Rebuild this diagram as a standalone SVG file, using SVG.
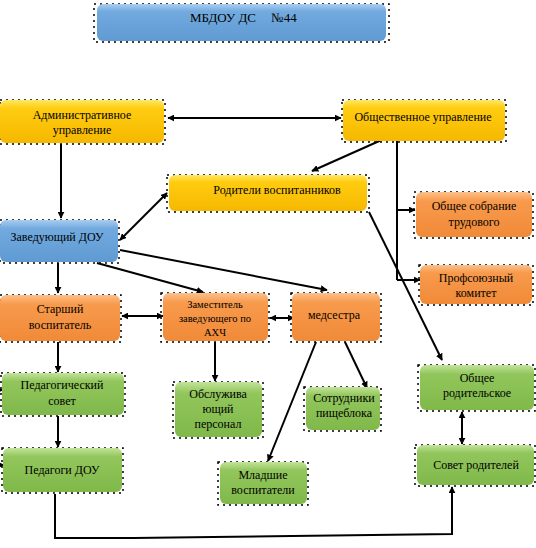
<svg xmlns="http://www.w3.org/2000/svg" width="536" height="548" viewBox="0 0 536 548">
<defs>
<linearGradient id="gb" x1="0" y1="0" x2="0" y2="1"><stop offset="0" stop-color="#A9CDF0"/><stop offset="0.2" stop-color="#72AADF"/><stop offset="1" stop-color="#5F9AD2"/></linearGradient>
<linearGradient id="gy" x1="0" y1="0" x2="0" y2="1"><stop offset="0" stop-color="#FFE860"/><stop offset="0.2" stop-color="#FFCC10"/><stop offset="1" stop-color="#F5B800"/></linearGradient>
<linearGradient id="go" x1="0" y1="0" x2="0" y2="1"><stop offset="0" stop-color="#FCC08A"/><stop offset="0.2" stop-color="#F89A4C"/><stop offset="1" stop-color="#F08A38"/></linearGradient>
<linearGradient id="gg" x1="0" y1="0" x2="0" y2="1"><stop offset="0" stop-color="#C2E49A"/><stop offset="0.2" stop-color="#92C65C"/><stop offset="1" stop-color="#80B84A"/></linearGradient>
<marker id="ah" viewBox="0 0 10 10" refX="9" refY="5" markerWidth="7" markerHeight="7" orient="auto-start-reverse" markerUnits="userSpaceOnUse"><path d="M0,0 L10,5 L0,10 z" fill="#000"/></marker>
</defs>
<style>
text{font-family:"Liberation Serif","Times New Roman",serif;font-size:12px;fill:#000;text-anchor:middle}
.s{font-size:10.5px}
.fr{fill:none;stroke:#000;stroke-width:1.5;stroke-dasharray:2,4}
.b{stroke:none}
.c{fill:none;stroke:#000;stroke-width:2}
.a{marker-end:url(#ah)}
.d{marker-start:url(#ah);marker-end:url(#ah)}
</style>
<rect width="536" height="548" fill="#fff"/>

<g id="connectors">
<line class="c d" x1="168" y1="118" x2="341" y2="118"/>
<line class="c a" x1="61" y1="144" x2="61" y2="218"/>
<line class="c d" x1="120" y1="240" x2="167" y2="193"/>
<line class="c a" x1="386" y1="138" x2="312" y2="171"/>
<polyline class="c" points="397,141 397,280"/>
<line class="c a" x1="397" y1="210" x2="415" y2="210"/>
<line class="c a" x1="397" y1="280" x2="420" y2="280"/>
<line class="c a" x1="369" y1="212" x2="442" y2="360"/>
<line class="c a" x1="58" y1="263" x2="58" y2="293"/>
<line class="c a" x1="97" y1="263" x2="203" y2="292"/>
<line class="c a" x1="120" y1="250" x2="327" y2="290"/>
<line class="c d" x1="122" y1="316" x2="163" y2="316"/>
<line class="c d" x1="270" y1="318" x2="294" y2="318"/>
<line class="c a" x1="58" y1="342" x2="58" y2="372"/>
<line class="c a" x1="58" y1="416" x2="58" y2="447"/>
<line class="c a" x1="215" y1="342" x2="215" y2="381"/>
<line class="c a" x1="345" y1="342" x2="367" y2="388"/>
<line class="c a" x1="316" y1="342" x2="268" y2="461"/>
<line class="c d" x1="462" y1="412" x2="462" y2="444"/>
<polyline class="c a" points="55,494 55,538 134,538 213,537 292,536 372,535 452,534 452,487"/>
<line class="c a" x1="-4" y1="390" x2="3" y2="390"/>
<line class="c a" x1="-4" y1="465" x2="4" y2="465"/>
</g>

<g id="n-title">
<rect class="fr" x="94" y="4" width="295" height="38"/>
<rect class="b" x="97" y="4" width="289" height="37" rx="6" fill="url(#gb)"/>
<text x="223" y="22" style="font-size:13px">МБДОУ ДС</text>
<text x="284" y="22" style="font-size:13px">№44</text>
</g>

<g id="n-admin">
<rect class="fr" x="0" y="100" width="165" height="44"/>
<rect class="b" x="0" y="100" width="164" height="43" rx="6" fill="url(#gy)"/>
<text x="82" y="119">Административное</text>
<text x="82" y="134">управление</text>
</g>

<g id="n-public">
<rect class="fr" x="342" y="100" width="164" height="42"/>
<rect class="b" x="343" y="100" width="162" height="41" rx="6" fill="url(#gy)"/>
<text x="423" y="121">Общественное управление</text>
</g>

<g id="n-parents">
<rect class="fr" x="167" y="175" width="202" height="37"/>
<rect class="b" x="169" y="175" width="198" height="36" rx="6" fill="url(#gy)"/>
<text x="277" y="194">Родители воспитанников</text>
</g>

<g id="n-head">
<rect class="fr" x="0" y="220" width="119" height="43"/>
<rect class="b" x="0" y="220" width="118" height="42" rx="6" fill="url(#gb)"/>
<text x="57" y="241">Заведующий ДОУ</text>
</g>

<g id="n-meeting">
<rect class="fr" x="414" y="192" width="119" height="46"/>
<rect class="b" x="416" y="192" width="116" height="45" rx="6" fill="url(#go)"/>
<text x="474" y="210">Общее собрание</text>
<text x="474" y="226">трудового</text>
</g>

<g id="n-union">
<rect class="fr" x="419" y="265" width="114" height="40"/>
<rect class="b" x="420" y="265" width="112" height="39" rx="6" fill="url(#go)"/>
<text x="476" y="282">Профсоюзный</text>
<text x="476" y="297">комитет</text>
</g>

<g id="n-senior">
<rect class="fr" x="0" y="295" width="121" height="47"/>
<rect class="b" x="0" y="295" width="120" height="46" rx="6" fill="url(#go)"/>
<text x="60" y="313">Старший</text>
<text x="60" y="329">воспитатель</text>
</g>

<g id="n-deputy">
<rect class="fr" x="161" y="293" width="108" height="49"/>
<rect class="b" x="163" y="293" width="105" height="48" rx="6" fill="url(#go)"/>
<text class="s" x="215" y="308">Заместитель</text>
<text class="s" x="215" y="322">заведующего по</text>
<text class="s" x="215" y="336">АХЧ</text>
</g>

<g id="n-nurse">
<rect class="fr" x="291" y="293" width="90" height="49"/>
<rect class="b" x="292" y="293" width="88" height="48" rx="6" fill="url(#go)"/>
<text x="334" y="319">медсестра</text>
</g>

<g id="n-pedsovet">
<rect class="fr" x="1" y="373" width="124" height="43"/>
<rect class="b" x="2" y="373" width="122" height="42" rx="6" fill="url(#gg)"/>
<text x="62" y="389">Педагогический</text>
<text x="62" y="405">совет</text>
</g>

<g id="n-teachers">
<rect class="fr" x="2" y="448" width="121" height="45"/>
<rect class="b" x="3" y="448" width="119" height="44" rx="6" fill="url(#gg)"/>
<text x="62" y="474">Педагоги ДОУ</text>
</g>

<g id="n-service">
<rect class="fr" x="173" y="382" width="90" height="56"/>
<rect class="b" x="175" y="382" width="87" height="55" rx="6" fill="url(#gg)"/>
<text x="218" y="398">Обслужива</text>
<text x="218" y="413">ющий</text>
<text x="218" y="428">персонал</text>
</g>

<g id="n-kitchen">
<rect class="fr" x="304" y="387" width="77" height="44"/>
<rect class="b" x="306" y="387" width="74" height="43" rx="6" fill="url(#gg)"/>
<text x="344" y="402">Сотрудники</text>
<text x="344" y="417">пищеблока</text>
</g>

<g id="n-junior">
<rect class="fr" x="218" y="462" width="90" height="43"/>
<rect class="b" x="220" y="462" width="87" height="42" rx="6" fill="url(#gg)"/>
<text x="263" y="479">Младшие</text>
<text x="263" y="494">воспитатели</text>
</g>

<g id="n-parentmeet">
<rect class="fr" x="418" y="365" width="117" height="46"/>
<rect class="b" x="420" y="365" width="114" height="45" rx="6" fill="url(#gg)"/>
<text x="477" y="382">Общее</text>
<text x="477" y="397">родительское</text>
</g>

<g id="n-council">
<rect class="fr" x="415" y="445" width="120" height="41"/>
<rect class="b" x="417" y="445" width="117" height="40" rx="6" fill="url(#gg)" stroke="#3a3a3a" stroke-width="0.8"/>
<text x="476" y="469">Совет родителей</text>
</g>
</svg>
